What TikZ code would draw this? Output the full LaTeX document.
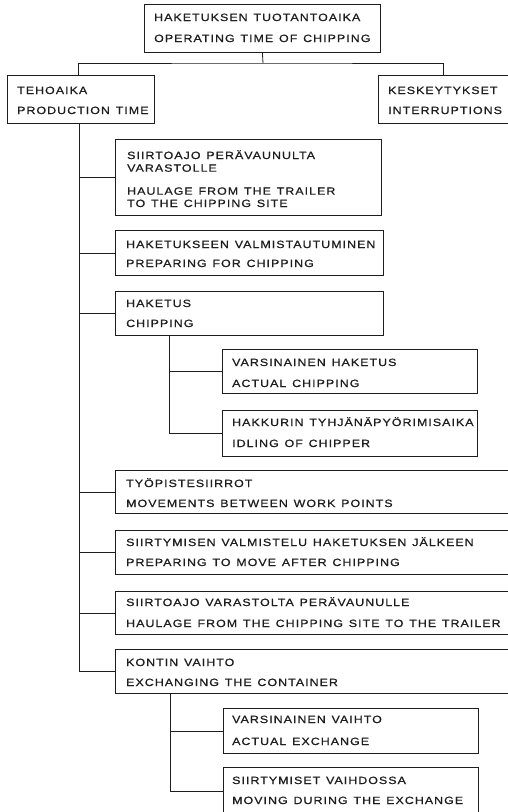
\documentclass[tikz,border=0pt]{standalone}
\usepackage{fontspec}
\newfontfamily\lblfont{Liberation Sans}[LetterSpace=10,WordSpace=1.3,FakeStretch=1.18,FakeBold=0.8]
\definecolor{ink}{HTML}{1E1E1E}
\begin{document}
\begin{tikzpicture}[x=1pt,y=-1pt,
  box/.style={draw=ink,line width=0.8pt,rectangle,inner sep=0,anchor=north west},
  lbl/.style={anchor=base west,inner sep=0,text=ink,font=\lblfont\fontsize{10.5}{12}\selectfont},
  conn/.style={draw=ink,line width=0.8pt}]
\useasboundingbox (0,0) rectangle (508,812);
\clip (0,0) rectangle (508,812);
\fill[white] (0,0) rectangle (508,812);
% boxes
\node[box,minimum width=236pt,minimum height=48pt] (top) at (144,4) {};
\node[box,minimum width=147pt,minimum height=48pt] (teho) at (7,75) {};
\node[box,minimum width=137pt,minimum height=48pt] (kesk) at (378,75) {};
\node[box,minimum width=266pt,minimum height=76pt] (b1) at (115,139) {};
\node[box,minimum width=268pt,minimum height=45pt] (b2) at (115,230) {};
\node[box,minimum width=268pt,minimum height=44pt] (b3) at (115,291) {};
\node[box,minimum width=255pt,minimum height=44pt] (b3a) at (222,349) {};
\node[box,minimum width=255pt,minimum height=46pt] (b3b) at (222,410) {};
\node[box,minimum width=400pt,minimum height=43pt] (b4) at (115,470) {};
\node[box,minimum width=400pt,minimum height=44pt] (b5) at (115,530) {};
\node[box,minimum width=400pt,minimum height=43pt] (b6) at (115,591) {};
\node[box,minimum width=400pt,minimum height=44pt] (b7) at (115,649) {};
\node[box,minimum width=255pt,minimum height=45pt] (b7a) at (223,708) {};
\node[box,minimum width=255pt,minimum height=48pt] (b7b) at (223,767) {};
% texts
\node[lbl] (t0a) at (154,21) {HAKETUKSEN TUOTANTOAIKA};
\node[lbl] (t0b) at (154,42) {OPERATING TIME OF CHIPPING};
\node[lbl] (tta) at (17,94) {TEHOAIKA};
\node[lbl] (ttb) at (17,114) {PRODUCTION TIME};
\node[lbl] (tka) at (388,94) {KESKEYTYKSET};
\node[lbl] (tkb) at (388,114) {INTERRUPTIONS};
\node[lbl] (t1a) at (127,159) {SIIRTOAJO PERÄVAUNULTA};
\node[lbl] (t1b) at (127,171.7) {VARASTOLLE};
\node[lbl] (t1c) at (127,194.7) {HAULAGE FROM THE TRAILER};
\node[lbl] (t1d) at (127,207) {TO THE CHIPPING SITE};
\node[lbl] (t2a) at (126,248) {HAKETUKSEEN VALMISTAUTUMINEN};
\node[lbl] (t2b) at (126,267) {PREPARING FOR CHIPPING};
\node[lbl] (t3a) at (126,307) {HAKETUS};
\node[lbl] (t3b) at (126,327) {CHIPPING};
\node[lbl] (t3aa) at (232,366) {VARSINAINEN HAKETUS};
\node[lbl] (t3ab) at (232,387) {ACTUAL CHIPPING};
\node[lbl] (t3ba) at (232,426) {HAKKURIN TYHJÄNÄPYÖRIMISAIKA};
\node[lbl] (t3bb) at (232,447) {IDLING OF CHIPPER};
\node[lbl] (t4a) at (126,487) {TYÖPISTESIIRROT};
\node[lbl] (t4b) at (126,507) {MOVEMENTS BETWEEN WORK POINTS};
\node[lbl] (t5a) at (126,546) {SIIRTYMISEN VALMISTELU HAKETUKSEN JÄLKEEN};
\node[lbl] (t5b) at (126,566) {PREPARING TO MOVE AFTER CHIPPING};
\node[lbl] (t6a) at (126,606) {SIIRTOAJO VARASTOLTA PERÄVAUNULLE};
\node[lbl] (t6b) at (126,627) {HAULAGE FROM THE CHIPPING SITE TO THE TRAILER};
\node[lbl] (t7a) at (126,666) {KONTIN VAIHTO};
\node[lbl] (t7b) at (126,686) {EXCHANGING THE CONTAINER};
\node[lbl] (t7aa) at (232,723) {VARSINAINEN VAIHTO};
\node[lbl] (t7ab) at (232,745) {ACTUAL EXCHANGE};
\node[lbl] (t7ba) at (232,784) {SIIRTYMISET VAIHDOSSA};
\node[lbl] (t7bb) at (232,804) {MOVING DURING THE EXCHANGE};
% connectors
\coordinate (split) at (263,63);
\coordinate (tr) at (79,0);
\coordinate (s1) at (169,0);
\coordinate (s2) at (170,0);
\draw[conn] (top.south) -- (split);
\draw[conn] ([xshift=-2.5pt]teho.north) |- (split) -| ([xshift=-3.5pt]kesk.north);
\draw[conn] (teho.south -| tr) -- (tr |- b7.west) -- (b7.west);
\foreach \b in {b1,b2,b3,b4,b5,b6} {\draw[conn] (tr |- \b.west) -- (\b.west);}
\draw[conn] (b3.south -| s1) -- (s1 |- b3b.west) -- (b3b.west);
\draw[conn] (s1 |- b3a.west) -- (b3a.west);
\draw[conn] (b7.south -| s2) -- (s2 |- b7b.west) -- (b7b.west);
\draw[conn] (s2 |- b7a.west) -- (b7a.west);
\end{tikzpicture}
\end{document}
